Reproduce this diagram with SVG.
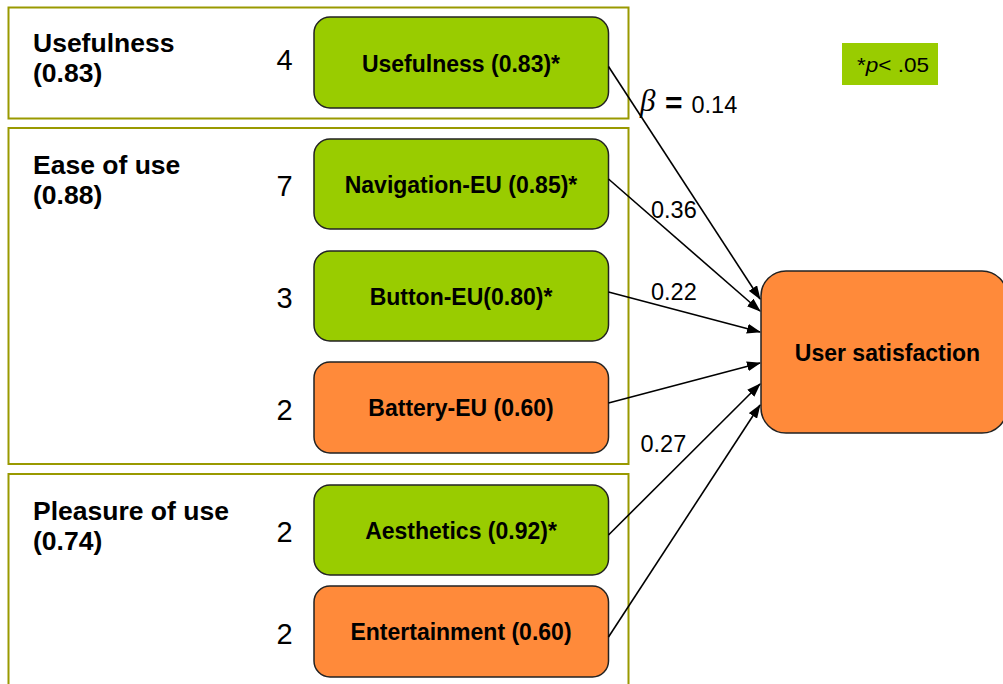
<svg xmlns="http://www.w3.org/2000/svg" width="1003" height="684" viewBox="0 0 1003 684">
  <style>
    .group { fill: none; stroke: #999900; stroke-width: 2; }
    .node { stroke: #222222; stroke-width: 1.5; }
    .green { fill: #99cc00; }
    .orange { fill: #ff8a3a; }
    .glabel { font-family: "Liberation Sans", Arial, sans-serif; font-size: 26.5px; font-weight: bold; fill: #000; }
    .ntext { font-family: "Liberation Sans", Arial, sans-serif; font-size: 23px; font-weight: bold; fill: #000; text-anchor: middle; }
    .count { font-family: "Liberation Sans", Arial, sans-serif; font-size: 29px; fill: #000; text-anchor: middle; }
    .elabel { font-family: "Liberation Sans", Arial, sans-serif; font-size: 23.5px; fill: #000; }
    .conn { stroke: #000; stroke-width: 1.6; fill: none; marker-end: url(#arrow); }
  </style>
  <defs>
    <marker id="arrow" markerUnits="userSpaceOnUse" markerWidth="14" markerHeight="10" refX="13" refY="5" orient="auto">
      <path d="M0,0 L14,5 L0,10 Z" fill="#000"/>
    </marker>
  </defs>

  <rect width="1003" height="684" fill="#ffffff"/>

  <!-- construct groups -->
  <g id="group-usefulness">
    <rect class="group" x="8.5" y="7.5" width="620" height="111"/>
    <text class="glabel" x="33" y="52">Usefulness</text>
    <text class="glabel" x="33" y="82">(0.83)</text>
  </g>
  <g id="group-ease">
    <rect class="group" x="8.5" y="128" width="620" height="336"/>
    <text class="glabel" x="33" y="174">Ease of use</text>
    <text class="glabel" x="33" y="204">(0.88)</text>
  </g>
  <g id="group-pleasure">
    <rect class="group" x="8.5" y="474" width="620" height="220"/>
    <text class="glabel" x="33" y="520">Pleasure of use</text>
    <text class="glabel" x="33" y="550">(0.74)</text>
  </g>

  <!-- factor nodes -->
  <g id="node-usefulness">
    <text class="count" x="284.5" y="70">4</text>
    <rect class="node green" x="314" y="17" width="294.5" height="91" rx="16"/>
    <text class="ntext" x="461" y="71.5">Usefulness (0.83)*</text>
  </g>
  <g id="node-navigation">
    <text class="count" x="284.5" y="196">7</text>
    <rect class="node green" x="314" y="139" width="294.5" height="90" rx="16"/>
    <text class="ntext" x="461" y="192.5">Navigation-EU (0.85)*</text>
  </g>
  <g id="node-button">
    <text class="count" x="284.5" y="308">3</text>
    <rect class="node green" x="314" y="251" width="294.5" height="90" rx="16"/>
    <text class="ntext" x="461" y="304.5">Button-EU(0.80)*</text>
  </g>
  <g id="node-battery">
    <text class="count" x="284.5" y="420">2</text>
    <rect class="node orange" x="314" y="362" width="294.5" height="91" rx="16"/>
    <text class="ntext" x="461" y="416">Battery-EU (0.60)</text>
  </g>
  <g id="node-aesthetics">
    <text class="count" x="284.5" y="542">2</text>
    <rect class="node green" x="314" y="485" width="294.5" height="90" rx="16"/>
    <text class="ntext" x="461" y="538.5">Aesthetics (0.92)*</text>
  </g>
  <g id="node-entertainment">
    <text class="count" x="284.5" y="644">2</text>
    <rect class="node orange" x="314" y="586" width="294.5" height="91" rx="16"/>
    <text class="ntext" x="461" y="640">Entertainment (0.60)</text>
  </g>

  <!-- outcome node -->
  <g id="node-satisfaction">
    <rect class="node orange" x="761" y="271" width="246" height="162" rx="25"/>
    <text class="ntext" x="887.5" y="361">User satisfaction</text>
  </g>

  <!-- significance legend -->
  <g id="legend">
    <rect x="842" y="43" width="96" height="42" fill="#99cc00"/>
    <text x="857" y="72" textLength="72" lengthAdjust="spacingAndGlyphs" font-family="'Liberation Sans', Arial, sans-serif" font-size="21" fill="#000">*<tspan font-style="italic">p</tspan>&lt; .05</text>
  </g>

  <!-- path connectors -->
  <g id="connectors">
    <line class="conn" x1="608.5" y1="66.5" x2="760" y2="299"/>
    <line class="conn" x1="608.5" y1="179" x2="760" y2="311"/>
    <line class="conn" x1="608.5" y1="292" x2="760" y2="332"/>
    <line class="conn" x1="608.5" y1="403" x2="760" y2="363"/>
    <line class="conn" x1="608.5" y1="535" x2="760" y2="384"/>
    <line class="conn" x1="608.5" y1="637" x2="760" y2="405"/>
  </g>

  <!-- path coefficients -->
  <g id="coefficients">
    <text x="640" y="111" font-family="'Liberation Serif', 'DejaVu Serif', serif" font-style="italic" font-size="31" fill="#000">β</text>
    <text x="665" y="113" font-family="'Liberation Sans', Arial, sans-serif" font-weight="bold" font-size="30" fill="#000">=</text>
    <text class="elabel" x="691.5" y="113">0.14</text>
    <text class="elabel" x="651" y="218">0.36</text>
    <text class="elabel" x="651" y="299.5">0.22</text>
    <text class="elabel" x="640.5" y="451.5">0.27</text>
  </g>
</svg>
